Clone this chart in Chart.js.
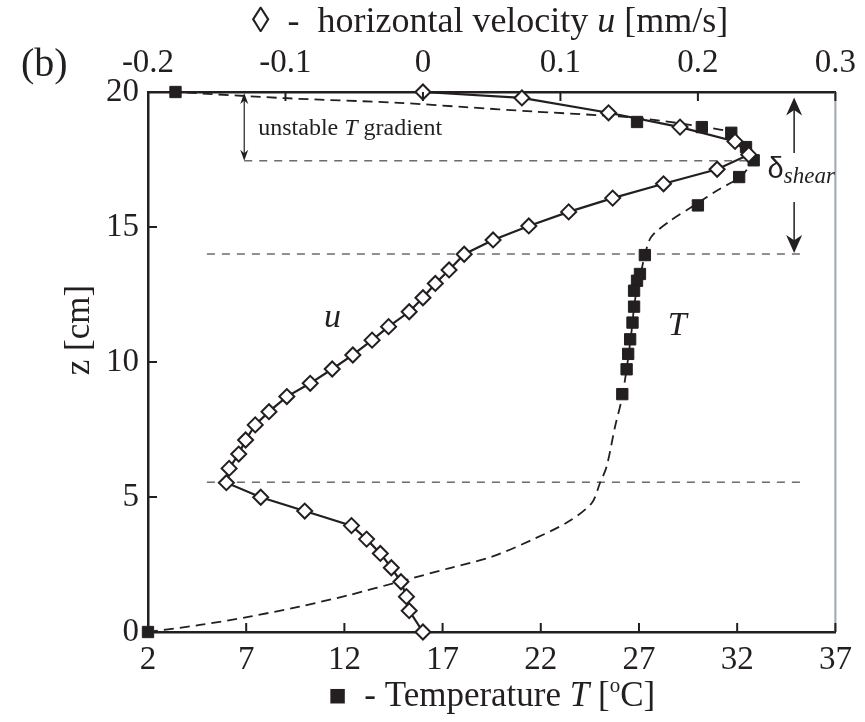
<!DOCTYPE html>
<html lang="en">
<head>
<meta charset="UTF-8">
<title>Velocity and temperature profiles (b)</title>
<script src="https://cdn.jsdelivr.net/npm/chart.js"></script>
<style>
  body { margin: 0; background: #fff; }
  #wrap { width: 865px; height: 722px; position: relative; }
</style>
</head>
<body>
<div id="wrap"><canvas id="profileChart"></canvas></div>
<script>
// horizontal velocity u [mm/s] against height z [cm] (open diamonds, top axis)
const uHeight = [20.0, 19.78, 19.23, 18.70, 18.17, 17.68, 17.14, 16.60, 16.07, 15.56, 15.04, 14.52, 13.99,
                 13.41, 12.91, 12.38, 11.86, 11.31, 10.81, 10.26, 9.74, 9.21, 8.72, 8.16, 7.67, 7.11, 6.59,
                 6.06, 5.53, 4.99, 4.48, 3.94, 3.44, 2.91, 2.38, 1.86, 1.31, 0.79, 0.0];
const uVelocity = [0.0, 0.072, 0.135, 0.187, 0.227, 0.237, 0.214, 0.175, 0.138, 0.106, 0.077, 0.051, 0.030,
                   0.019, 0.009, 0.0, -0.010, -0.025, -0.037, -0.051, -0.066, -0.082, -0.099, -0.112, -0.122,
                   -0.129, -0.134, -0.141, -0.143, -0.118, -0.086, -0.052, -0.041, -0.031, -0.023, -0.016,
                   -0.012, -0.010, 0.0];

// measured temperature T [°C] (filled squares, bottom axis)
const tHeight = [20.0, 18.89, 18.70, 18.49, 17.96, 17.47, 16.85, 15.80, 13.96, 13.26, 13.01, 12.64, 12.05,
                 11.46, 10.84, 10.30, 9.73, 8.81, 0.0];
const tTemp = [3.4, 26.9, 30.2, 31.7, 32.45, 32.84, 32.1, 30.0, 27.3, 27.05, 26.9, 26.75, 26.75,
               26.67, 26.55, 26.45, 26.37, 26.15, 2.0];

// dashed temperature profile, read along the curve from the bottom
const profileHeight = [0.0, 0.26, 0.57, 0.94, 1.37, 1.86, 2.36, 2.79, 3.47, 4.09, 4.77, 5.51, 6.12, 7.60,
                       8.59, 9.73, 11.0, 12.3, 13.3, 13.96, 14.64, 15.26, 15.81, 16.37, 16.86, 17.41, 17.96,
                       18.48, 18.72, 19.04, 19.14, 19.28, 19.44, 19.6, 19.77, 20.0];
const profileTemp = [2.0, 4.64, 7.17, 9.71, 12.25, 14.78, 17.32, 19.52, 21.72, 23.41, 24.59, 25.01, 25.35, 25.78,
                     26.11, 26.37, 26.6, 26.8, 27.1, 27.3, 27.63, 28.65, 29.83, 31.02, 32.17, 32.69, 32.44,
                     31.73, 30.15, 26.96, 24.94, 21.55, 18.17, 14.78, 9.03, 3.4];

// thin dashed guide levels (z) and their extent in T
const guideZ = [17.45, 14.0, 5.55];
const guideFrom = [6.9, 5.0, 5.0];
const guideTo = [32.5, 35.5, 35.5];

const ink = '#231f20';
const serif = '"Liberation Serif", "Times New Roman", serif';

function pairs(xs, ys) {
  return xs.map((x, i) => ({ x: x, y: ys[i] }));
}

function drawRuns(ctx, runs, x, y, align) {
  ctx.textAlign = 'left';
  let total = 0;
  runs.forEach(r => { ctx.font = r.font; total += ctx.measureText(r.text).width; });
  let cx = align === 'center' ? x - total / 2 : x;
  runs.forEach(r => {
    ctx.font = r.font;
    ctx.fillText(r.text, cx, y + (r.dy || 0));
    cx += ctx.measureText(r.text).width;
  });
}

function arrowHead(ctx, x, tipY, dir, len, halfW) {
  // dir = -1 points up, +1 points down
  ctx.beginPath();
  ctx.moveTo(x, tipY);
  ctx.lineTo(x - halfW, tipY - dir * len);
  ctx.lineTo(x, tipY - dir * len * 0.7);
  ctx.lineTo(x + halfW, tipY - dir * len);
  ctx.closePath();
  ctx.fill();
}

const decorations = {
  id: 'decorations',
  afterDraw(chart) {
    const { ctx, chartArea: a } = chart;
    const xT = chart.scales.xT, xU = chart.scales.xU, y = chart.scales.y;
    ctx.save();

    // right frame line
    ctx.strokeStyle = '#9ea6ae';
    ctx.lineWidth = 2;
    ctx.beginPath(); ctx.moveTo(a.right, a.top); ctx.lineTo(a.right, a.bottom); ctx.stroke();

    // inward tick marks
    ctx.strokeStyle = ink;
    ctx.lineWidth = 2;
    ctx.beginPath();
    xT.ticks.forEach(t => { const p = xT.getPixelForValue(t.value); ctx.moveTo(p, a.bottom); ctx.lineTo(p, a.bottom - 9); });
    xU.ticks.forEach(t => { const p = xU.getPixelForValue(t.value); ctx.moveTo(p, a.top); ctx.lineTo(p, a.top + 9); });
    y.ticks.forEach(t => { const p = y.getPixelForValue(t.value); ctx.moveTo(a.left, p); ctx.lineTo(a.left + 9, p); });
    ctx.stroke();

    ctx.fillStyle = ink;
    ctx.textBaseline = 'alphabetic';

    // unstable T gradient arrow
    const ax = xT.getPixelForValue(6.9);
    const aTop = y.getPixelForValue(20), aBot = y.getPixelForValue(17.45);
    ctx.lineWidth = 1.2;
    ctx.beginPath(); ctx.moveTo(ax, aTop + 4); ctx.lineTo(ax, aBot - 4); ctx.stroke();
    arrowHead(ctx, ax, aTop + 1, -1, 11, 4);
    arrowHead(ctx, ax, aBot, 1, 11, 4);
    drawRuns(ctx, [
      { text: 'unstable ', font: '24px ' + serif },
      { text: 'T', font: 'italic 24px ' + serif },
      { text: ' gradient', font: '24px ' + serif }
    ], ax + 14, y.getPixelForValue(18.4), 'left');

    // delta shear arrows
    const sx = xT.getPixelForValue(34.9);
    ctx.lineWidth = 1.5;
    ctx.beginPath();
    ctx.moveTo(sx, y.getPixelForValue(17.74)); ctx.lineTo(sx, y.getPixelForValue(19.6));
    ctx.moveTo(sx, y.getPixelForValue(15.93)); ctx.lineTo(sx, y.getPixelForValue(14.25));
    ctx.stroke();
    arrowHead(ctx, sx, y.getPixelForValue(19.8), -1, 18, 8);
    arrowHead(ctx, sx, y.getPixelForValue(14.04), 1, 18, 8);
    drawRuns(ctx, [
      { text: 'δ', font: '29px "Liberation Sans", Arial, sans-serif' },
      { text: 'shear', font: 'italic 23px ' + serif, dy: 5 }
    ], xT.getPixelForValue(33.55), y.getPixelForValue(16.8), 'left');

    // curve labels
    drawRuns(ctx, [{ text: 'u', font: 'italic 34px ' + serif }], xT.getPixelForValue(11.4), y.getPixelForValue(11.3), 'center');
    drawRuns(ctx, [{ text: 'T', font: 'italic 34px ' + serif }], xT.getPixelForValue(28.95), y.getPixelForValue(11.0), 'center');

    // axis titles
    drawRuns(ctx, [
      { text: '◊  -  horizontal velocity ', font: '36px ' + serif },
      { text: 'u', font: 'italic 36px ' + serif },
      { text: ' [mm/s]', font: '36px ' + serif }
    ], 490, 32, 'center');
    drawRuns(ctx, [
      { text: '■', font: '19px "DejaVu Sans", sans-serif', dy: -5 },
      { text: '  - Temperature ', font: '35px ' + serif },
      { text: 'T', font: 'italic 35px ' + serif },
      { text: ' [', font: '35px ' + serif },
      { text: 'o', font: '21px ' + serif, dy: -14 },
      { text: 'C]', font: '35px ' + serif }
    ], 492, 706, 'center');

    ctx.save();
    ctx.translate(89, 330);
    ctx.rotate(-Math.PI / 2);
    drawRuns(ctx, [{ text: 'z [cm]', font: '35px ' + serif }], 0, 0, 'center');
    ctx.restore();

    drawRuns(ctx, [{ text: '(b)', font: '40px ' + serif }], 21, 76, 'left');

    ctx.restore();
  }
};

const datasets = [
  {
    label: 'u',
    data: pairs(uVelocity, uHeight),
    xAxisID: 'xU', yAxisID: 'y',
    showLine: true, borderColor: ink, borderWidth: 2.2,
    pointStyle: 'rectRot', pointRadius: 7.5, pointBorderWidth: 2,
    pointBackgroundColor: '#fff', pointBorderColor: ink, clip: false
  },
  {
    label: 'T',
    data: pairs(tTemp, tHeight),
    xAxisID: 'xT', yAxisID: 'y',
    showLine: false,
    pointStyle: 'rect', pointRadius: 8, pointBorderWidth: 1,
    pointBackgroundColor: ink, pointBorderColor: ink, clip: false
  },
  {
    label: 'T profile',
    data: pairs(profileTemp, profileHeight),
    xAxisID: 'xT', yAxisID: 'y',
    showLine: true, borderColor: ink, borderWidth: 1.8, borderDash: [10, 6],
    tension: 0.3, pointRadius: 0
  }
];
guideZ.forEach((z, i) => {
  datasets.push({
    label: 'guide ' + i,
    data: [{ x: guideFrom[i], y: z }, { x: guideTo[i], y: z }],
    xAxisID: 'xT', yAxisID: 'y',
    showLine: true, borderColor: ink, borderWidth: 1, borderDash: [8, 7], pointRadius: 0
  });
});

const tickFont = { family: serif, size: 33 };

new Chart(document.getElementById('profileChart'), {
  type: 'scatter',
  data: { datasets: datasets },
  options: {
    responsive: true,
    maintainAspectRatio: false,
    animation: false,
    layout: { padding: { left: 0, right: 27, top: 0, bottom: 0 } },
    plugins: { legend: { display: false }, tooltip: { enabled: false } },
    scales: {
      xT: {
        type: 'linear', position: 'bottom', min: 2, max: 37,
        ticks: { stepSize: 5, color: ink, font: tickFont, padding: 9, autoSkip: false, maxRotation: 0 },
        grid: { drawOnChartArea: false, drawTicks: false },
        border: { display: true, color: ink, width: 2.5 },
        afterFit: s => { s.height = 90; }
      },
      xU: {
        type: 'linear', position: 'top', min: -0.2, max: 0.3,
        ticks: {
          stepSize: 0.1, color: ink, font: tickFont, padding: 9, autoSkip: false, maxRotation: 0,
          callback: v => Math.abs(v) < 1e-9 ? '0' : v.toFixed(1)
        },
        grid: { drawOnChartArea: false, drawTicks: false },
        border: { display: true, color: ink, width: 2.5 },
        afterFit: s => { s.height = 92; }
      },
      y: {
        type: 'linear', position: 'left', min: 0, max: 20,
        ticks: { stepSize: 5, color: ink, font: tickFont, padding: 9 },
        grid: { drawOnChartArea: false, drawTicks: false },
        border: { display: true, color: ink, width: 2.5 },
        afterFit: s => { s.width = 148; }
      }
    }
  },
  plugins: [decorations]
});
</script>
</body>
</html>
